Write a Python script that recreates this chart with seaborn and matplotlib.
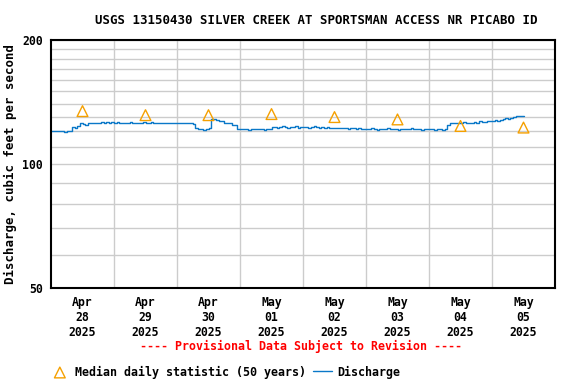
import numpy as np
import pandas as pd
import matplotlib
matplotlib.use('Agg')
import matplotlib.pyplot as plt
import seaborn as sns

# Discharge, hourly readings starting Apr 28 00:00 (cfs)
apr28 = [120.5, 120.0, 120.5, 120.0, 120.5, 119.5, 120.0, 120.5, 123.0, 122.5, 124.0, 125.5,
         125.0, 124.5, 125.5, 126.0, 126.0, 125.5, 126.0, 126.5, 126.0, 126.5, 126.0, 126.5]
apr29 = [126.0, 126.5, 126.0, 125.5, 126.0, 126.0, 126.5, 126.0, 126.0, 125.5, 126.0, 126.5,
         126.0, 126.0, 126.5, 126.0, 125.5, 126.0, 126.0, 126.0, 125.5, 126.0, 126.0, 125.5]
apr30 = [126.0, 125.5, 126.0, 125.5, 125.5, 126.0, 125.0, 122.0, 121.5, 121.5, 121.0, 121.5,
         122.0, 128.7, 128.5, 128.0, 127.5, 127.0, 126.0, 125.5, 125.5, 124.5, 124.5, 121.5]
may01 = [121.5, 121.5, 121.5, 121.0, 121.5, 121.5, 121.5, 121.5, 121.5, 121.0, 121.5, 121.5,
         123.0, 123.0, 122.5, 123.0, 123.5, 123.0, 122.5, 123.0, 123.0, 123.5, 122.5, 123.0]
may02 = [123.0, 123.0, 122.5, 123.0, 123.5, 123.0, 122.5, 123.0, 122.5, 123.0, 122.5, 122.5,
         122.0, 122.5, 122.0, 122.5, 122.0, 121.5, 122.0, 122.0, 121.5, 122.0, 121.5, 121.5]
may03 = [121.5, 121.5, 122.0, 121.5, 121.0, 121.5, 121.5, 121.5, 122.0, 121.5, 121.5, 121.5,
         121.0, 121.5, 121.5, 121.5, 121.5, 122.0, 121.5, 121.5, 121.5, 121.0, 121.5, 121.5]
may04 = [121.5, 121.5, 121.0, 121.5, 121.5, 121.0, 121.5, 124.5, 125.5, 126.0, 125.5, 126.0,
         126.0, 126.5, 126.0, 125.5, 126.0, 126.5, 126.0, 127.0, 126.5, 126.5, 127.0, 127.5]
may05 = [127.0, 128.0, 127.5, 128.0, 128.5, 129.0, 128.5, 129.5, 130.0, 130.5, 131.0, 131.0, 130.5]

day_labels = ['Apr\n28\n2025', 'Apr\n29\n2025', 'Apr\n30\n2025', 'May\n01\n2025',
              'May\n02\n2025', 'May\n03\n2025', 'May\n04\n2025', 'May\n05\n2025']
median_vals = [134.4, 131.4, 131.4, 132.2, 130.0, 128.3, 123.7, 122.6]

line_color = '#0a78c8'
tri_color = '#f5a000'

discharge = apr28 + apr29 + apr30 + may01 + may02 + may03 + may04 + may05
df = pd.DataFrame({'day': np.arange(len(discharge)) / 24.0, 'cfs': discharge})
df_med = pd.DataFrame({'day': np.arange(len(median_vals)) + 0.5, 'cfs': median_vals})

sns.set_style('white')
plt.rcParams['font.family'] = ['DejaVu Sans Mono']
plt.rcParams['font.weight'] = 'bold'
plt.rcParams['text.color'] = 'black'
plt.rcParams['xtick.color'] = 'black'
plt.rcParams['ytick.color'] = 'black'

fig = plt.figure(figsize=(5.76, 3.84), dpi=100)
ax = fig.add_axes([51 / 576, 96 / 384, 504 / 576, 248 / 384])

sns.lineplot(data=df, x='day', y='cfs', ax=ax, color=line_color, linewidth=1,
             drawstyle='steps-post', label='Discharge', legend=False)
sns.scatterplot(data=df_med, x='day', y='cfs', ax=ax, marker='^', s=60,
                facecolor='none', edgecolor=tri_color, linewidth=1,
                label='Median daily statistic (50 years)', legend=False, zorder=3)

ax.set_yscale('log')
ax.set_ylim(50, 200)
ax.set_xlim(0, 8)
ax.set_yticks([50, 100, 200])
ax.set_yticklabels(['50', '100', '200'])
ax.set_yticks([60, 70, 80, 90, 110, 120, 130, 140, 150, 160, 170, 180, 190], minor=True)
ax.yaxis.set_minor_formatter(matplotlib.ticker.NullFormatter())
ax.set_xticks(np.arange(8) + 0.5)
ax.set_xticklabels(day_labels)
ax.set_xticks(np.arange(1, 8), minor=True)

ax.grid(True, which='both', axis='y', color='#cccccc', linewidth=1)
ax.grid(True, which='minor', axis='x', color='#cccccc', linewidth=1)
ax.grid(False, which='major', axis='x')
ax.tick_params(axis='both', which='both', length=0, labelsize=8.3, pad=6, labelcolor='black')
for lab in ax.get_xticklabels() + ax.get_yticklabels():
    lab.set_fontweight('bold')
for s in ax.spines.values():
    s.set_color('black')
    s.set_linewidth(1.5)
ax.set_xlabel('')
ax.set_ylabel('')

fig.text(10 / 576, 1 - 164 / 384, 'Discharge, cubic feet per second', rotation=90,
         ha='center', va='center', fontsize=8.9, fontweight='bold', color='black')
fig.text(316 / 576, 1 - 20 / 384, 'USGS 13150430 SILVER CREEK AT SPORTSMAN ACCESS NR PICABO ID',
         ha='center', va='center', fontsize=8.9, fontweight='bold', color='black')
fig.text(301 / 576, 1 - 346 / 384, '---- Provisional Data Subject to Revision ----',
         ha='center', va='center', fontsize=8.4, fontweight='bold', color='red')

handles, labels = ax.get_legend_handles_labels()
order = [labels.index('Median daily statistic (50 years)'), labels.index('Discharge')]
leg = fig.legend([handles[i] for i in order], [labels[i] for i in order],
                 loc='center left', bbox_to_anchor=(40 / 576, 1 - 372 / 384), ncol=2,
                 frameon=False, handlelength=1.6, columnspacing=0.6,
                 handletextpad=0.5, prop={'weight': 'bold', 'size': 8.4})
for t in leg.get_texts():
    t.set_color('black')

fig.savefig('out.png', dpi=100)
